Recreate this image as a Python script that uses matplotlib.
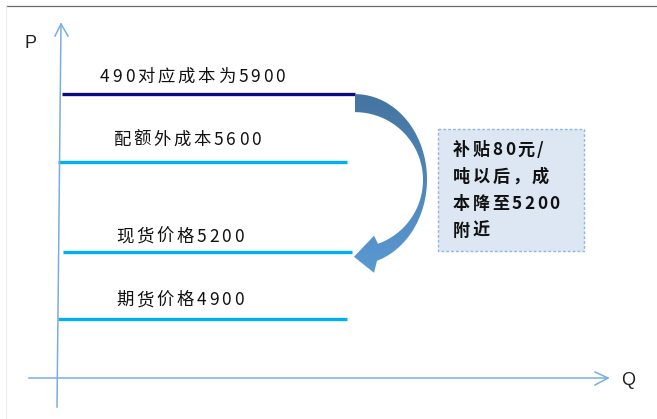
import numpy as np
import matplotlib
matplotlib.use("Agg")
import matplotlib.pyplot as plt
from matplotlib.patches import Polygon, Rectangle

plt.rcParams['font.family'] = ['Noto Sans CJK SC', 'DejaVu Sans']

# Price levels and their labels
level_prices = [5900, 5600, 5200, 4900]
level_labels = ['490对应成本为5900', '配额外成本5600', '现货价格5200', '期货价格4900']
box_lines = ['补贴80元/', '吨以后，成', '本降至5200', '附近']

# Styling / layout of each level line
level_colors = ['#0b0b7e', '#00b0f0', '#00b0f0', '#00b0f0']
level_x = [(62, 355), (58, 347), (63, 352), (58, 347)]
label_x = [100, 113, 116, 116]
label_rise = [17, 22, 15, 19]

W, H = 657, 419
fig = plt.figure(figsize=(W / 100, H / 100), dpi=100)
fig.patch.set_facecolor('white')
renderer = fig.canvas.get_renderer()

# Price axes (lines) covering the whole canvas
ax = fig.add_axes([0, 0, 1, 1])
ax.set_xlim(0, W)
ax.set_ylim(4457.5, 6318)
ax.axis('off')

# Overlay in canvas pixel units for the sketch decorations
ov = fig.add_axes([0, 0, 1, 1])
ov.set_xlim(0, W)
ov.set_ylim(H, 0)
ov.axis('off')
ov.patch.set_alpha(0)


def price_to_px(p):
    return H - ax.transData.transform((0, p))[1]


def spaced_text(x, y, s, gap, **kw):
    """Write s character by character with extra tracking (in pixels)."""
    for ch in s:
        t = ov.text(x, y, ch, ha='left', va='center', **kw)
        w = t.get_window_extent(renderer).width
        x += w + gap


# Frame lines
ov.plot([6, W], [6, 6], color='#6b6b6b', lw=0.9)
ov.plot([6, 6], [6, H], color='#ececec', lw=0.9)

# Coordinate axes with open arrowheads
axis_c = '#7aaee0'
ov.plot([57, 61], [407, 24], color=axis_c, lw=1.1)
ov.plot([55, 61, 68], [36, 24, 36], color=axis_c, lw=1.1)
ov.plot([29, 608], [378, 378], color=axis_c, lw=1.1)
ov.plot([595, 608, 595], [372, 378, 385], color=axis_c, lw=1.1)
ov.text(31, 43, 'P', fontsize=13, family=['Liberation Sans'], ha='center', va='center', color='#222222')
ov.text(628, 380, 'Q', fontsize=13, family=['Liberation Sans'], ha='center', va='center', color='#222222')

# Price level lines with labels
for p, lab, c, (x0, x1), lx, rise in zip(level_prices, level_labels, level_colors,
                                          level_x, label_x, label_rise):
    ax.plot([x0, x1], [p, p], color=c, lw=2.4, solid_capstyle='butt')
    spaced_text(lx, price_to_px(p) - rise, lab, 2.8, fontsize=12.5, color='#111111')

# Curved arrow from the top cost level down to the spot price level
y0 = price_to_px(level_prices[0])
y1 = price_to_px(level_prices[2])
cx = 355


def arc(rx, y_start, y_end, x_end):
    t_end = np.pi - np.arcsin((x_end - cx) / rx)
    c_end = np.cos(t_end)
    ry = (y_end - y_start) / (1 - c_end)
    cy = y_start + ry
    t = np.linspace(0, t_end, 80)
    return np.column_stack([cx + rx * np.sin(t), cy - ry * np.cos(t)])


outer = arc(72, y0, y1 + 9, 377)
inner = arc(68, y0 + 18, y1 - 8, 378)
head = np.array([[374, y1 + 21], [354, y1 + 5], [374, y1 - 16]])
pts = np.vstack([outer, head, inner[::-1]])
poly = Polygon(pts, closed=True, facecolor='none', edgecolor='none')
ov.add_patch(poly)
grad = np.linspace(0, 1, 256).reshape(-1, 1)
cmap = matplotlib.colors.LinearSegmentedColormap.from_list('arr', ['#44739f', '#5b9bd5'])
im = ov.imshow(grad, cmap=cmap, extent=(340, 440, y1 + 30, y0 - 5), aspect='auto', zorder=3)
im.set_clip_path(poly)

# Annotation box
ov.add_patch(Rectangle((438, 129), 146, 122, facecolor='#dde7f3', edgecolor='#8db6e3',
                       lw=1.0, linestyle=(0, (2, 1.5)), zorder=2))
for i, line in enumerate(box_lines):
    spaced_text(453, 150 + i * 27, line, 2.5, fontsize=12.3, fontweight='bold',
                color='#111111', zorder=4)

ov.set_xlim(0, W)
ov.set_ylim(H, 0)
fig.savefig('out.png', dpi=100, facecolor='white')
